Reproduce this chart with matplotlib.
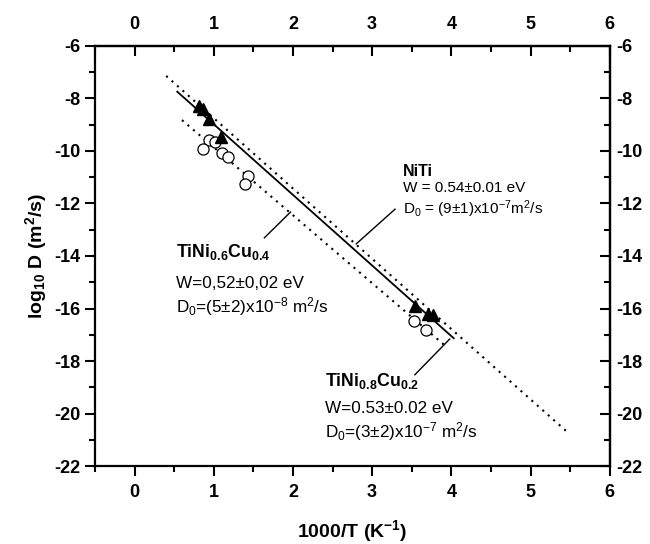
import matplotlib
matplotlib.use("Agg")
import matplotlib.pyplot as plt
from matplotlib.ticker import FixedLocator

plt.rcParams['font.family'] = ['Liberation Sans', 'DejaVu Sans']
plt.rcParams['mathtext.fontset'] = 'custom'
plt.rcParams['mathtext.rm'] = 'Liberation Sans'
plt.rcParams['mathtext.it'] = 'Liberation Sans:italic'
plt.rcParams['mathtext.bf'] = 'Liberation Sans:bold'
plt.rcParams['axes.unicode_minus'] = False

# NiTi (filled triangles)
niti_x = [0.82, 0.87, 0.94, 1.09, 3.54, 3.71, 3.77]
niti_y = [-8.29, -8.41, -8.79, -9.46, -15.92, -16.20, -16.24]

# TiNi-Cu (open circles)
cu_x = [0.94, 0.87, 1.02, 1.11, 1.18, 1.43, 1.39, 3.53, 3.68]
cu_y = [-9.59, -9.94, -9.65, -10.07, -10.22, -10.95, -11.25, -16.46, -16.81]

# fit lines (end points)
fit_niti_x = [0.54, 4.03]
fit_niti_y = [-7.75, -17.13]
fit_cu02_x = [0.40, 5.48]
fit_cu02_y = [-7.15, -20.74]
fit_cu04_x = [0.60, 3.92]
fit_cu04_y = [-8.83, -17.41]

x_major = [0, 1, 2, 3, 4, 5, 6]
x_minor = [-0.5, 0.5, 1.5, 2.5, 3.5, 4.5, 5.5]
y_major = [-22, -20, -18, -16, -14, -12, -10, -8, -6]
y_minor = [-21, -19, -17, -15, -13, -11, -9, -7]

fig = plt.figure(figsize=(6.5, 5.44), dpi=100)
ax = fig.add_axes([0.146, 0.143, 0.792, 0.773])

dots = (0, (1, 2.5))
ax.plot(fit_niti_x, fit_niti_y, color='black', lw=1.3)
ax.plot(fit_cu02_x, fit_cu02_y, color='black', lw=1.5, linestyle=dots)
ax.plot(fit_cu04_x, fit_cu04_y, color='black', lw=1.5, linestyle=dots)
ax.plot(cu_x, cu_y, 'o', mfc='white', mec='black', ms=8, mew=0.9)
ax.plot(niti_x, niti_y, '^', color='black', ms=8)

# annotations
ax.plot([3.29, 2.80], [-12.22, -13.54], color='black', lw=1)
ax.text(3.39, -10.80, "NiTi", fontsize=11.5, fontweight='bold', va='center')
ax.text(3.39, -11.40, "W = 0.54±0.01 eV", fontsize=11, va='center')
ax.text(3.39, -12.22, r"D$_0$ = (9±1)x10$^{-7}$m$^2$/s", fontsize=11, va='center')

ax.plot([1.64, 1.97], [-13.31, -12.33], color='black', lw=1)
ax.text(0.52, -13.85, r"TiNi$_{\mathbf{0.6}}$Cu$_{\mathbf{0.4}}$", fontsize=12.8,
        fontweight='bold', va='center')
ax.text(0.52, -15.03, "W=0,52±0,02 eV", fontsize=12.3, va='center')
ax.text(0.52, -15.94, r"D$_0$=(5±2)x10$^{-8}$ m$^2$/s", fontsize=12.3, va='center')

ax.plot([3.54, 3.98], [-18.52, -17.16], color='black', lw=1)
ax.text(2.41, -18.75, r"TiNi$_{\mathbf{0.8}}$Cu$_{\mathbf{0.2}}$", fontsize=12.8,
        fontweight='bold', va='center')
ax.text(2.41, -19.80, "W=0.53±0.02 eV", fontsize=12.3, va='center')
ax.text(2.41, -20.68, r"D$_0$=(3±2)x10$^{-7}$ m$^2$/s", fontsize=12.3, va='center')

ax.set_xlim(-0.5, 6)
ax.set_ylim(-22, -6)
ax.xaxis.set_major_locator(FixedLocator(x_major))
ax.xaxis.set_minor_locator(FixedLocator(x_minor))
ax.yaxis.set_major_locator(FixedLocator(y_major))
ax.yaxis.set_minor_locator(FixedLocator(y_minor))
ax.tick_params(which='both', direction='out', width=1.5, labelsize=13)
ax.tick_params(which='major', length=7)
ax.tick_params(which='minor', length=4)
ax.tick_params(axis='x', which='major', pad=6)
for lab in ax.get_xticklabels() + ax.get_yticklabels():
    lab.set_fontweight('bold')
for s in ax.spines.values():
    s.set_linewidth(1.6)

top = ax.secondary_xaxis('top')
top.xaxis.set_major_locator(FixedLocator(x_major))
top.xaxis.set_minor_locator(FixedLocator(x_minor))
top.tick_params(which='both', direction='in', width=1.5, labelsize=13)
top.tick_params(which='major', length=7, pad=9)
top.tick_params(which='minor', length=4)
right = ax.secondary_yaxis('right')
right.yaxis.set_major_locator(FixedLocator(y_major))
right.yaxis.set_minor_locator(FixedLocator(y_minor))
right.tick_params(which='both', direction='in', width=1.5, labelsize=13)
right.tick_params(which='major', length=7, pad=5)
right.tick_params(which='minor', length=4)
for sec in (top, right):
    for s in sec.spines.values():
        s.set_linewidth(1.6)
for lab in top.get_xticklabels() + right.get_yticklabels():
    lab.set_fontweight('bold')

ax.set_xlabel(r"1000/T (K$^{\mathbf{-1}}$)", fontsize=14, fontweight='bold', labelpad=12)
ax.set_ylabel(r"log$_{\mathbf{10}}$ D (m$^{\mathbf{2}}$/s)", fontsize=14, fontweight='bold')

fig.savefig("out.png", dpi=100)
